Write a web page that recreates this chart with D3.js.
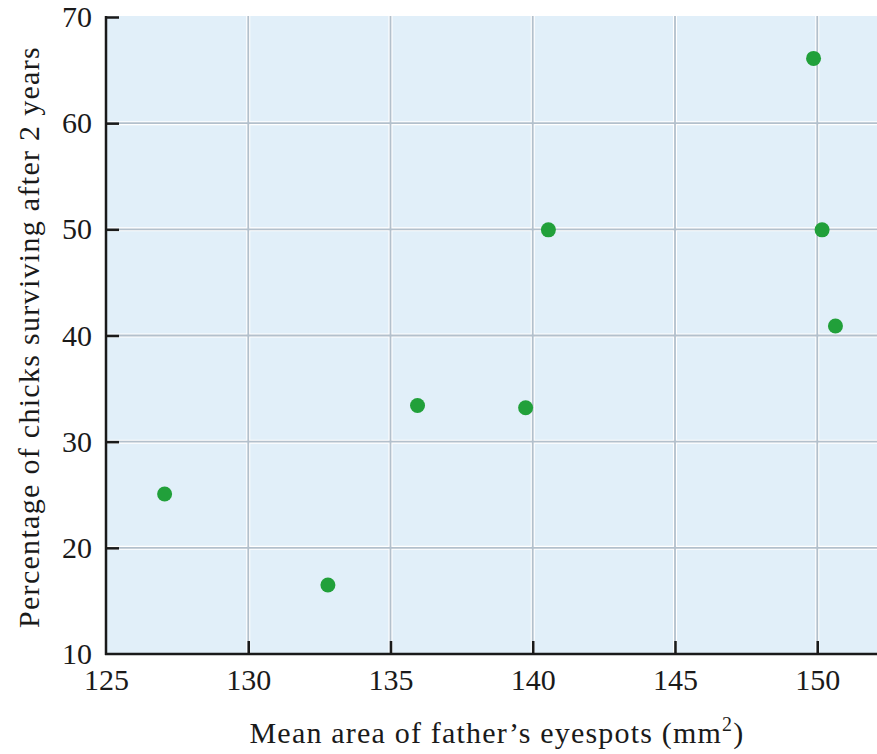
<!DOCTYPE html>
<html><head><meta charset="utf-8">
<script src="https://cdn.jsdelivr.net/npm/d3@7"></script>
<style>body{margin:0;background:#fff}svg{display:block}</style>
</head><body>
<svg id="c" width="877" height="754"></svg>
<script>
const eyespotArea = [127.06, 132.8, 135.95, 139.75, 140.55, 149.87, 150.17, 150.64];
const survivalPct = [25.07, 16.5, 33.4, 33.2, 49.95, 66.1, 49.95, 40.9];
const xTicks = [125, 130, 135, 140, 145, 150];
const yTicks = [10, 20, 30, 40, 50, 60, 70];
const xTitle = "Mean area of father\u2019s eyespots (mm";
const yTitle = "Percentage of chicks surviving after 2 years";

const svg = d3.select("#c");
const L = 106, R = 877, T = 17, B = 654;
const x = d3.scaleLinear().domain([125, 152.1]).range([L, R]);
const y = d3.scaleLinear().domain([10, 70]).range([B, T]);
const font = "'Liberation Serif', 'DejaVu Serif', serif";
const fs = 30;

svg.append("rect").attr("x", L).attr("y", T - 1).attr("width", R - L).attr("height", B - T + 1).attr("fill", "#e1eff9");

const gx = xTicks.filter(d => d > 125);
const gy = yTicks.filter(d => d > 10 && d < 70);
// white halos
svg.append("g").selectAll("line").data(gx).join("line")
  .attr("x1", d => x(d)).attr("x2", d => x(d)).attr("y1", T - 1).attr("y2", B)
  .attr("stroke", "#ffffff").attr("stroke-width", 4);
svg.append("g").selectAll("line").data(gy).join("line")
  .attr("y1", d => y(d)).attr("y2", d => y(d)).attr("x1", L).attr("x2", R)
  .attr("stroke", "#ffffff").attr("stroke-width", 4);
svg.append("g").selectAll("line").data(gx).join("line")
  .attr("x1", d => x(d)).attr("x2", d => x(d)).attr("y1", T - 1).attr("y2", B)
  .attr("stroke", "#b3c0cc").attr("stroke-width", 1.8);
svg.append("g").selectAll("line").data(gy).join("line")
  .attr("y1", d => y(d)).attr("y2", d => y(d)).attr("x1", L).attr("x2", R)
  .attr("stroke", "#b3c0cc").attr("stroke-width", 1.8);

// axes
const xAxis = d3.axisBottom(x).tickValues(xTicks).tickSize(-13).tickPadding(15).tickFormat(d3.format("d"));
const gX = svg.append("g").attr("transform", `translate(0,${B})`).call(xAxis);
gX.select(".domain").remove();
gX.append("line").attr("x1", L - 1).attr("x2", R).attr("y1", 0).attr("y2", 0).attr("stroke", "#1a1a1a").attr("stroke-width", 2.5);
gX.selectAll(".tick line").attr("stroke", "#1a1a1a").attr("stroke-width", 2.5);
gX.selectAll(".tick text").attr("font-family", font).attr("font-size", fs).attr("fill", "#1a1a1a").attr("dy", "0.71em");
gX.selectAll(".tick").filter(d => d === 125).select("line").remove();

const yAxis = d3.axisLeft(y).tickValues(yTicks).tickSize(-13).tickPadding(14).tickFormat(d3.format("d"));
const gY = svg.append("g").attr("transform", `translate(${L},0)`).call(yAxis);
gY.select(".domain").remove();
gY.append("line").attr("x1", 0).attr("x2", 0).attr("y1", T - 1).attr("y2", B + 1).attr("stroke", "#1a1a1a").attr("stroke-width", 2.5);
gY.selectAll(".tick line").attr("stroke", "#1a1a1a").attr("stroke-width", 2.5);
gY.selectAll(".tick text").attr("font-family", font).attr("font-size", fs).attr("fill", "#1a1a1a");
gY.selectAll(".tick").filter(d => d === 10).select("line").remove();

// points
svg.append("g").selectAll("circle").data(eyespotArea.map((d, i) => [d, survivalPct[i]])).join("circle")
  .attr("cx", d => x(d[0])).attr("cy", d => y(d[1])).attr("r", 7.5).attr("fill", "#21a03a");

// titles
const xt = svg.append("text").attr("x", 497).attr("y", 743).attr("text-anchor", "middle")
  .attr("font-family", font).attr("font-size", fs).attr("fill", "#1a1a1a").attr("letter-spacing", 1.2);
xt.append("tspan").text(xTitle);
xt.append("tspan").text("2").attr("font-size", 20).attr("dy", -12);
xt.append("tspan").text(")").attr("dy", 12);

svg.append("text").attr("transform", `translate(39,337) rotate(-90)`).attr("text-anchor", "middle")
  .attr("font-family", font).attr("font-size", fs).attr("fill", "#1a1a1a").attr("letter-spacing", 1.3).text(yTitle);
</script>
</body></html>
